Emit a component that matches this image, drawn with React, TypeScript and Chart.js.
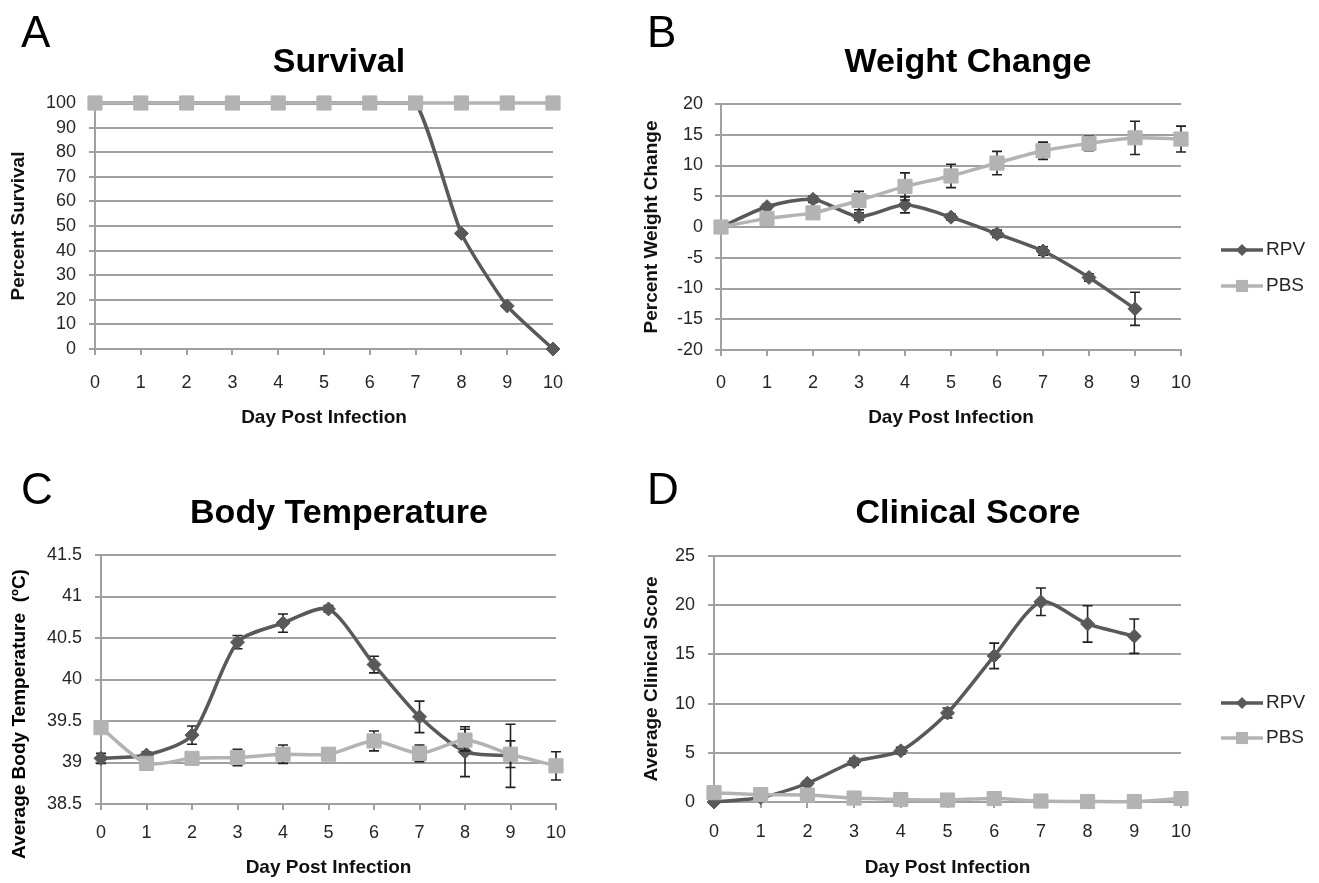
import React, { useEffect, useRef } from "react";
import { Chart, registerables } from "chart.js";

Chart.register(...registerables);

const FONT = "'Liberation Sans', Arial, Helvetica, sans-serif";
const RPV_COLOR = "#595959";
const PBS_COLOR = "#b3b3b3";
const GRID = "#a0a0a0";
const TEXT = "#262626";

// ---------- data ----------
const days = ["0", "1", "2", "3", "4", "5", "6", "7", "8", "9", "10"];
const seriesNames = ["RPV", "PBS"];

const survivalRPV = [100, 100, 100, 100, 100, 100, 100, 100, 47, 17.5, 0];
const survivalPBS = [100, 100, 100, 100, 100, 100, 100, 100, 100, 100, 100];

const weightRPV = [0, 3.3, 4.5, 1.7, 3.6, 1.6, -1.1, -3.9, -8.2, -13.3, null];
const weightRPVErr = [0, 0.4, 0.5, 0.6, 1.3, 0.5, 0.6, 0.7, 0.6, 2.7, null];
const weightPBS = [0, 1.4, 2.3, 4.3, 6.6, 8.3, 10.4, 12.4, 13.6, 14.5, 14.3];
const weightPBSErr = [0, 0.3, 0.4, 1.5, 2.2, 1.9, 1.9, 1.4, 1.2, 2.7, 2.1];

const tempRPV = [39.05, 39.09, 39.33, 40.45, 40.68, 40.85, 40.18, 39.55, 39.13, 39.08, null];
const tempRPVErr = [0.06, 0.04, 0.11, 0.08, 0.11, 0.04, 0.1, 0.19, 0.3, 0.38, null];
const tempPBS = [39.42, 38.99, 39.05, 39.06, 39.1, 39.1, 39.26, 39.11, 39.27, 39.1, 38.96];
const tempPBSErr = [0.03, 0.08, 0.03, 0.1, 0.11, 0.03, 0.12, 0.1, 0.13, 0.16, 0.17];

const scoreRPV = [0, 0.45, 1.9, 4.1, 5.2, 9.05, 14.85, 20.35, 18.1, 16.85, null];
const scoreRPVErr = [0, 0.1, 0.2, 0.35, 0.35, 0.5, 1.3, 1.4, 1.85, 1.75, null];
const scorePBS = [0.95, 0.75, 0.7, 0.4, 0.25, 0.2, 0.35, 0.1, 0.05, 0.05, 0.35];
const scorePBSErr = [0.2, 0.15, 0.15, 0.1, 0.1, 0.05, 0.1, 0.05, 0.05, 0.05, 0.1];

// ---------- plugins ----------
const errorBarPlugin = {
  id: "errorBars",
  beforeDatasetDraw(chart: any, args: any) {
    const i = args.index;
    const ds = chart.data.datasets[i];
    const errs = ds.errors;
    if (!errs) return;
    const ctx = chart.ctx;
    const yScale = chart.scales.y;
    const meta = chart.getDatasetMeta(i);
    ctx.save();
    ctx.strokeStyle = "#222";
    ctx.lineWidth = 1.6;
    meta.data.forEach((pt: any, j: number) => {
      const v = ds.data[j];
      const e = errs[j];
      if (v == null || e == null || e <= 0) return;
      const x = pt.x;
      const yTop = yScale.getPixelForValue(v + e);
      const yBot = yScale.getPixelForValue(v - e);
      ctx.beginPath();
      ctx.moveTo(x, yTop);
      ctx.lineTo(x, yBot);
      ctx.moveTo(x - 5, yTop);
      ctx.lineTo(x + 5, yTop);
      ctx.moveTo(x - 5, yBot);
      ctx.lineTo(x + 5, yBot);
      ctx.stroke();
    });
    ctx.restore();
  },
};

type TextItem = {
  text: string;
  x: number;
  y: number;
  font: string;
  align?: CanvasTextAlign;
  baseline?: CanvasTextBaseline;
  rotate?: number;
  color?: string;
};

type LegendSpec = { x1: number; x2: number; textX: number; ys: number[] };

function makeDecor(cx: number, cy: number, texts: TextItem[], legend?: LegendSpec) {
  return {
    id: "decor",
    afterDraw(chart: any) {
      const ctx = chart.ctx;
      ctx.save();
      for (const t of texts) {
        ctx.save();
        ctx.translate(t.x - cx, t.y - cy);
        if (t.rotate) ctx.rotate(t.rotate);
        ctx.font = t.font;
        ctx.fillStyle = t.color || "#000";
        ctx.textAlign = t.align || "center";
        ctx.textBaseline = t.baseline || "alphabetic";
        ctx.fillText(t.text, 0, 0);
        ctx.restore();
      }
      if (legend) {
        chart.data.datasets.forEach((ds: any, i: number) => {
          const y = legend.ys[i] - cy;
          const x1 = legend.x1 - cx;
          const x2 = legend.x2 - cx;
          ctx.strokeStyle = ds.borderColor;
          ctx.lineWidth = ds.borderWidth;
          ctx.beginPath();
          ctx.moveTo(x1, y);
          ctx.lineTo(x2, y);
          ctx.stroke();
          const xm = (x1 + x2) / 2;
          ctx.fillStyle = ds.pointBackgroundColor;
          ctx.beginPath();
          if (ds.pointStyle === "rectRot") {
            const r = ds.pointRadius - 1;
            ctx.moveTo(xm, y - r);
            ctx.lineTo(xm + r, y);
            ctx.lineTo(xm, y + r);
            ctx.lineTo(xm - r, y);
            ctx.closePath();
          } else {
            const h = ds.pointRadius * Math.SQRT1_2 - 1;
            ctx.rect(xm - h, y - h, 2 * h, 2 * h);
          }
          ctx.fill();
          ctx.fillStyle = TEXT;
          ctx.font = `19px ${FONT}`;
          ctx.textAlign = "left";
          ctx.textBaseline = "middle";
          ctx.fillText(ds.label, legend.textX - cx, y);
        });
      }
      ctx.restore();
    },
  };
}

// ---------- panel spec ----------
type PanelSpec = {
  cx: number; cy: number; cw: number; ch: number;
  L: number; R: number; T: number; B: number;
  letter: string; letterX: number; letterY: number;
  title: string; titleX: number; titleY: number;
  yTitle: string; yTitleX: number; yTitleY?: number; yTitleCustom?: boolean;
  xTitleY: number;
  xLabelY: number; yLabelRight: number;
  min: number; max: number; step: number;
  tension: number;
  rpv: (number | null)[]; pbs: (number | null)[];
  rpvErr?: (number | null)[]; pbsErr?: (number | null)[];
  legendYs?: number[];
};

function buildConfig(s: PanelSpec): any {
  const tickLen = 6;
  const xLabelFont = 18;
  const titleFont = 19;
  const titleLH = titleFont * 1.2;
  const xh = s.xTitleY + titleLH / 2 - s.B;
  const yw = s.L - s.cx;
  const xPad = s.xLabelY - s.B - tickLen - (xLabelFont * 1.2) / 2;
  const yPad = s.L - s.yLabelRight - tickLen;
  const yTitlePad = Math.max(0, s.yTitleX - s.cx - titleLH / 2);

  const texts: TextItem[] = [
    { text: s.letter, x: s.letterX, y: s.letterY, font: `44px ${FONT}`, align: "left" },
    { text: s.title, x: s.titleX, y: s.titleY, font: `bold 34px ${FONT}`, align: "center" },
  ];
  if (s.yTitleCustom) {
    texts.push({
      text: s.yTitle, x: s.yTitleX, y: s.yTitleY as number,
      font: `bold ${titleFont}px ${FONT}`, align: "center", baseline: "middle", rotate: -Math.PI / 2,
    });
  }

  const legend = s.legendYs ? { x1: 1221, x2: 1263, textX: 1266, ys: s.legendYs } : undefined;

  return {
    type: "line",
    data: {
      labels: days,
      datasets: [
        {
          label: seriesNames[0],
          data: s.rpv,
          errors: s.rpvErr,
          borderColor: RPV_COLOR,
          backgroundColor: RPV_COLOR,
          pointBackgroundColor: RPV_COLOR,
          pointBorderColor: RPV_COLOR,
          pointStyle: "rectRot",
          pointRadius: 7,
          pointBorderWidth: 1,
          borderWidth: 3.5,
          tension: s.tension,
          order: 1,
          clip: false,
        },
        {
          label: seriesNames[1],
          data: s.pbs,
          errors: s.pbsErr,
          borderColor: PBS_COLOR,
          backgroundColor: PBS_COLOR,
          pointBackgroundColor: PBS_COLOR,
          pointBorderColor: PBS_COLOR,
          pointStyle: "rect",
          pointRadius: 10,
          pointBorderWidth: 1,
          borderWidth: 3.5,
          tension: s.tension,
          order: 0,
          clip: false,
        },
      ],
    },
    options: {
      responsive: false,
      animation: false,
      devicePixelRatio: 1,
      events: [],
      layout: {
        padding: {
          left: 0,
          top: s.T - s.cy,
          right: s.cx + s.cw - s.R,
          bottom: s.cy + s.ch - s.B - xh,
        },
      },
      plugins: {
        legend: { display: false },
        tooltip: { enabled: false },
        title: { display: false },
      },
      scales: {
        x: {
          type: "category",
          offset: false,
          grid: {
            drawOnChartArea: false,
            drawTicks: true,
            tickLength: tickLen,
            color: GRID,
            lineWidth: 2,
            offset: false,
          },
          border: { display: true, color: GRID, width: 2 },
          ticks: {
            color: TEXT,
            font: { family: FONT, size: xLabelFont },
            padding: xPad,
            maxRotation: 0,
            autoSkip: false,
          },
          title: {
            display: true,
            text: "Day Post Infection",
            color: "#111",
            font: { family: FONT, size: titleFont, weight: "bold" },
            padding: { top: 0, bottom: 0 },
          },
          afterFit: (sc: any) => {
            sc.height = xh;
          },
        },
        y: {
          min: s.min,
          max: s.max,
          grid: { color: GRID, lineWidth: 2, tickLength: tickLen, drawTicks: true },
          border: { display: true, color: GRID, width: 2 },
          ticks: {
            stepSize: s.step,
            color: TEXT,
            font: { family: FONT, size: 18 },
            padding: yPad,
            callback: (v: any) => String(+Number(v).toFixed(2)),
          },
          title: {
            display: !s.yTitleCustom,
            text: s.yTitle,
            color: "#111",
            font: { family: FONT, size: titleFont, weight: "bold" },
            padding: { top: yTitlePad, bottom: 0 },
          },
          afterFit: (sc: any) => {
            sc.width = yw;
          },
        },
      },
    },
    plugins: [errorBarPlugin, makeDecor(s.cx, s.cy, texts, legend)],
  };
}

const panels: PanelSpec[] = [
  {
    cx: 0, cy: 0, cw: 640, ch: 441,
    L: 95, R: 553, T: 103, B: 349,
    letter: "A", letterX: 21, letterY: 47,
    title: "Survival", titleX: 339, titleY: 72,
    yTitle: "Percent Survival", yTitleX: 18.5,
    xTitleY: 418, xLabelY: 383, yLabelRight: 76,
    min: 0, max: 100, step: 10, tension: 0.18,
    rpv: survivalRPV, pbs: survivalPBS,
  },
  {
    cx: 640, cy: 0, cw: 679, ch: 441,
    L: 721, R: 1181, T: 104, B: 350,
    letter: "B", letterX: 647, letterY: 47,
    title: "Weight Change", titleX: 968, titleY: 72,
    yTitle: "Percent Weight Change", yTitleX: 650,
    xTitleY: 418, xLabelY: 383, yLabelRight: 703,
    min: -20, max: 20, step: 5, tension: 0.25,
    rpv: weightRPV, pbs: weightPBS, rpvErr: weightRPVErr, pbsErr: weightPBSErr,
    legendYs: [250, 286],
  },
  {
    cx: 0, cy: 441, cw: 640, ch: 442,
    L: 101, R: 556, T: 555, B: 804,
    letter: "C", letterX: 21, letterY: 504,
    title: "Body Temperature", titleX: 339, titleY: 523,
    yTitle: "Average Body Temperature  (\u00baC)", yTitleX: 20, yTitleY: 714, yTitleCustom: true,
    xTitleY: 868, xLabelY: 833, yLabelRight: 82,
    min: 38.5, max: 41.5, step: 0.5, tension: 0.25,
    rpv: tempRPV, pbs: tempPBS, rpvErr: tempRPVErr, pbsErr: tempPBSErr,
  },
  {
    cx: 640, cy: 441, cw: 679, ch: 442,
    L: 714, R: 1181, T: 556, B: 802,
    letter: "D", letterX: 647, letterY: 504,
    title: "Clinical Score", titleX: 968, titleY: 523,
    yTitle: "Average Clinical Score", yTitleX: 650,
    xTitleY: 868, xLabelY: 832, yLabelRight: 695,
    min: 0, max: 25, step: 5, tension: 0.25,
    rpv: scoreRPV, pbs: scorePBS, rpvErr: scoreRPVErr, pbsErr: scorePBSErr,
    legendYs: [703, 738],
  },
];

function Panel({ spec }: { spec: PanelSpec }) {
  const ref = useRef<HTMLCanvasElement | null>(null);
  useEffect(() => {
    if (!ref.current) return;
    const chart = new Chart(ref.current, buildConfig(spec));
    return () => chart.destroy();
  }, [spec]);
  return (
    <div style={{ position: "absolute", left: spec.cx, top: spec.cy, width: spec.cw, height: spec.ch }}>
      <canvas ref={ref} width={spec.cw} height={spec.ch} style={{ width: spec.cw, height: spec.ch, display: "block" }} />
    </div>
  );
}

export default function App() {
  return (
    <div style={{ position: "fixed", left: 0, top: 0, width: 1319, height: 883, background: "#fff", overflow: "hidden" }}>
      {panels.map((p) => (
        <Panel key={p.letter} spec={p} />
      ))}
    </div>
  );
}
